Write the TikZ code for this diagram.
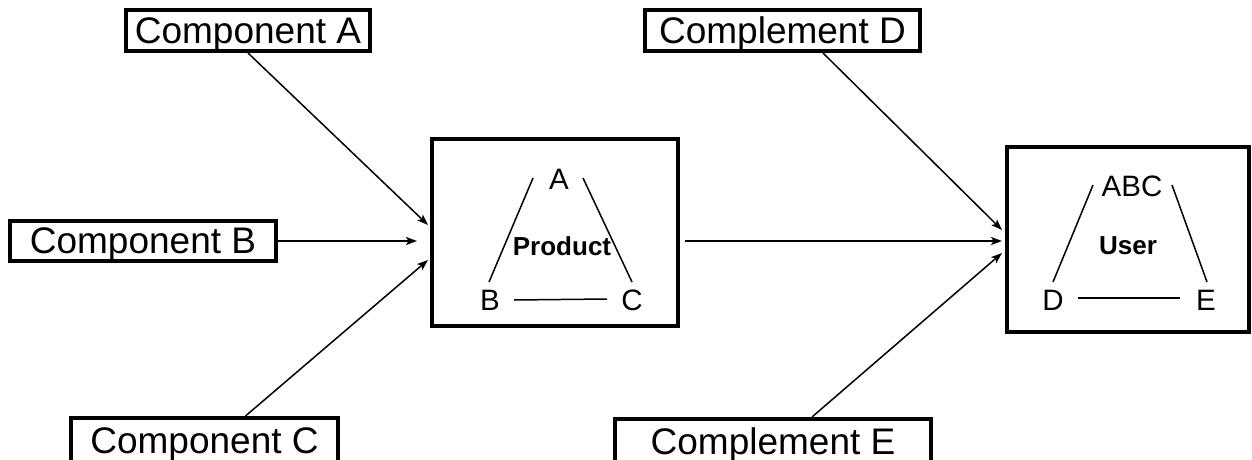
\documentclass[tikz,border=0pt]{standalone}
\usepackage{fontspec}
\setmainfont{Liberation Sans}
\usetikzlibrary{arrows.meta}
\begin{document}
\begin{tikzpicture}[x=1pt,y=-1pt,
  labelbox/.style={draw,line width=4pt,inner sep=0pt,text depth=0pt,
    font=\fontsize{37}{40}\selectfont},
  bigbox/.style={draw,line width=4pt,inner sep=0pt},
  link/.style={line width=1.5pt,-{Stealth[length=11pt,width=8pt,inset=2.5pt]}},
  sideline/.style={line width=1.5pt},
  corner/.style={inner sep=0pt,anchor=base,font=\fontsize{29.5}{32}\selectfont},
  tagtext/.style={inner sep=0pt,anchor=base,font=\bfseries\fontsize{26}{29}\selectfont}]
\useasboundingbox (0,0) rectangle (1252,460);

% input boxes
\node[labelbox,minimum width=244pt,minimum height=41pt] (compA) at (248,30.5) {Component A};
\node[labelbox,minimum width=266pt,minimum height=40pt] (compB) at (143,241) {Component B};
\node[labelbox,minimum width=267pt,minimum height=45pt] (compC) at (204.5,440.5) {Component C};
\node[labelbox,minimum width=275pt,minimum height=41pt] (compD) at (782.5,30.5) {Complement D};
\node[labelbox,minimum width=316pt,minimum height=44pt] (compE) at (773,441) {Complement E};

% product and user boxes
\node[bigbox,minimum width=246pt,minimum height=187pt] (prod) at (555,232.5) {};
\node[bigbox,minimum width=242pt,minimum height=185pt] (user) at (1128,239.5) {};

% product triangle
\node[corner] (pA) at (559,189) {A};
\node[corner] (pB) at (490,310) {B};
\node[corner] (pC) at (632,310) {C};
\node[tagtext] (pT) at (562,255) {Product};
\draw[sideline] (533,178) -- (489,282);
\draw[sideline] (583,178) -- (632,282);
\draw[sideline] (514,300) -- (607,299);

% user triangle
\node[corner] (uA) at (1132,196) {ABC};
\node[corner] (uD) at (1053,310) {D};
\node[corner] (uE) at (1206,310) {E};
\node[tagtext] (uT) at (1128,254) {User};
\draw[sideline] (1093,185) -- (1053,282);
\draw[sideline] (1172,185) -- (1207,282);
\draw[sideline] (1078,298) -- (1180,298);

% arrow tips at the box sides
\coordinate (tipA) at (428,225);
\coordinate (tipB) at (417,241);
\coordinate (tipC) at (428,260);
\coordinate (tipU) at (1002,241);
\coordinate (tipD) at (1002,230);
\coordinate (tipE) at (1002,253);

% connectors
\draw[link] (compA.south) -- (tipA);
\draw[link] (compB.east) -- (tipB);
\draw[link] ([xshift=41pt]compC.north) -- (tipC);
\draw[link,shorten <=5pt] (prod.east |- tipU) -- (tipU);
\draw[link] ([xshift=40.5pt]compD.south) -- (tipD);
\draw[link] ([xshift=39pt]compE.north) -- (tipE);
\end{tikzpicture}
\end{document}
